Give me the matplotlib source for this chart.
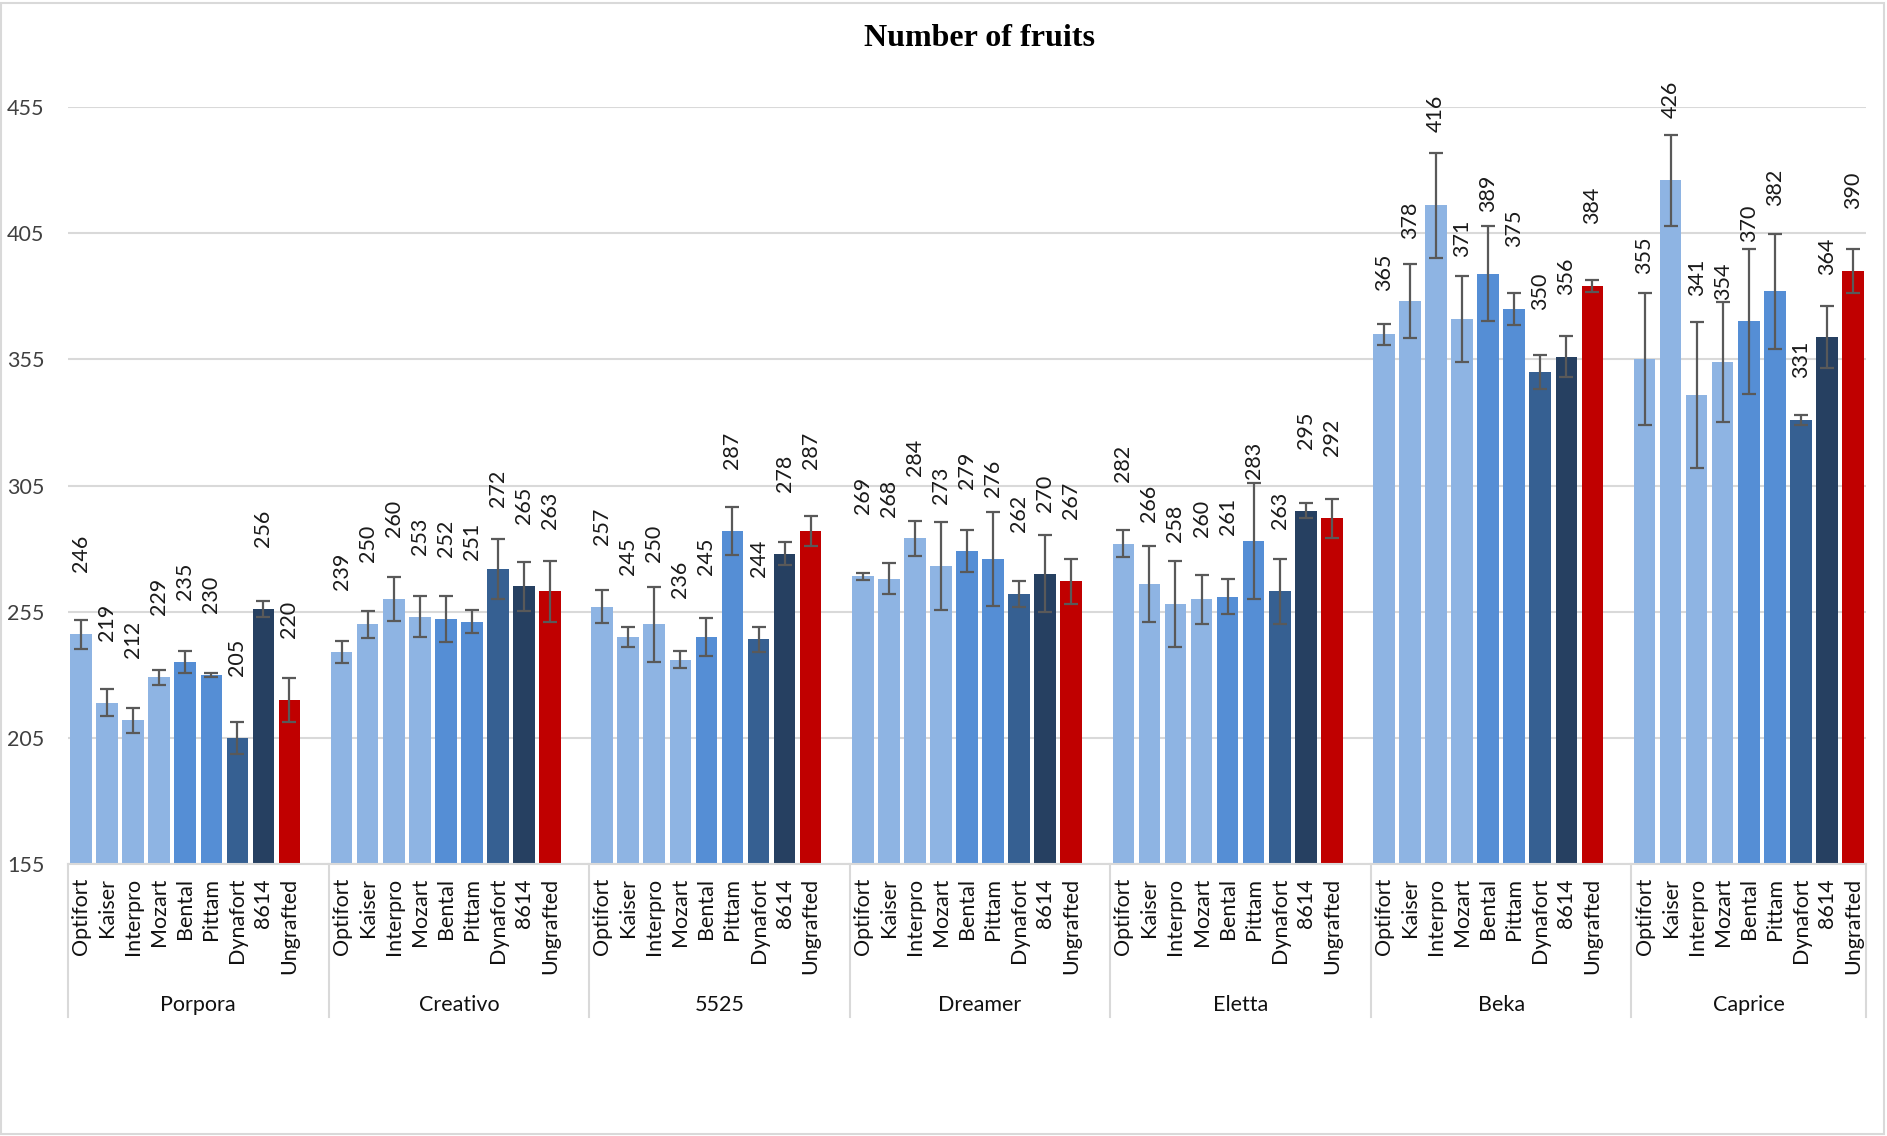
import matplotlib
matplotlib.use('Agg')
import matplotlib.pyplot as plt
import matplotlib.transforms as mtransforms
from matplotlib.patches import Rectangle

# scion groups and rootstocks along the x axis
groups = ['Porpora', 'Creativo', '5525', 'Dreamer', 'Eletta', 'Beka', 'Caprice']
rootstocks = ['Optifort', 'Kaiser', 'Interpro', 'Mozart', 'Bental', 'Pittam',
              'Dynafort', '8614', 'Ungrafted']

# number of fruits per rootstock, one list per scion
porpora = [246, 219, 212, 229, 235, 230, 205, 256, 220]
creativo = [239, 250, 260, 253, 252, 251, 272, 265, 263]
v5525 = [257, 245, 250, 236, 245, 287, 244, 278, 287]
dreamer = [269, 268, 284, 273, 279, 276, 262, 270, 267]
eletta = [282, 266, 258, 260, 261, 283, 263, 295, 292]
beka = [365, 378, 416, 371, 389, 375, 350, 356, 384]
caprice = [355, 426, 341, 354, 370, 382, 331, 364, 390]

# error bar half widths
porpora_err = [5.8, 5.5, 4.9, 2.9, 4.5, 0.8, 6.3, 3.3, 8.9]
creativo_err = [4.4, 5.4, 8.7, 8.2, 9.2, 4.6, 11.9, 9.6, 12.2]
v5525_err = [6.5, 4.0, 14.8, 3.4, 7.5, 9.4, 4.9, 4.7, 5.9]
dreamer_err = [1.4, 6.1, 7.0, 17.5, 8.2, 18.6, 5.1, 15.2, 8.9]
eletta_err = [5.2, 15.0, 17.2, 9.7, 7.1, 23.0, 12.9, 3.0, 7.7]
beka_err = [4.2, 14.7, 20.9, 17.0, 19.0, 6.4, 6.6, 8.1, 2.5]
caprice_err = [26.1, 18.0, 28.9, 23.8, 28.8, 22.8, 2.0, 12.3, 8.8]

values = [porpora, creativo, v5525, dreamer, eletta, beka, caprice]
errors = [porpora_err, creativo_err, v5525_err, dreamer_err, eletta_err, beka_err, caprice_err]

yticks = [155, 205, 255, 305, 355, 405, 455]

# styling
colors = ['#8EB4E3'] * 4 + ['#558ED5'] * 2 + ['#366092', '#264061', '#C00000']
grid_col = '#D9D9D9'
label_font = 'Lato'
fs = 15.5
# label gap above bar top, in pixels; a few were moved by hand in the original
label_gap = 62
label_gap_moved = {('Beka', 'Optifort'): 43, ('Beka', 'Interpro'): 73,
                   ('Caprice', 'Optifort'): 85, ('Caprice', 'Interpro'): 99,
                   ('Caprice', 'Bental'): 79, ('Caprice', 'Pittam'): 85,
                   ('Caprice', 'Dynafort'): 42}

W, H, DPI = 1887, 1136, 100
fig = plt.figure(figsize=(W / DPI, H / DPI), dpi=DPI)
ax = fig.add_axes([68 / W, 1 - 864 / H, (1866 - 68) / W, (864 - 107) / H])

xs, names = [], []
for g, (grp, vals, errs) in enumerate(zip(groups, values, errors)):
    x = [g * 10 + i for i in range(len(rootstocks))]
    ax.bar(x, [v - yticks[0] for v in vals], bottom=yticks[0], width=0.83,
           color=colors, zorder=2)
    ax.errorbar(x, vals, yerr=errs, fmt='none', ecolor='#595959', elinewidth=1.6,
                capsize=5, capthick=1.6, zorder=3)
    for xi, v, rs in zip(x, vals, rootstocks):
        gap = label_gap_moved.get((grp, rs), label_gap) * 72 / DPI
        ax.annotate(str(v), (xi, v), xytext=(0, gap), textcoords='offset points',
                    rotation=90, ha='center', va='bottom', fontsize=fs,
                    family=label_font, color='#1a1a1a')
    xs += x
    names += rootstocks

ax.set_xlim(-0.5, 68.5)
ax.set_ylim(yticks[0], yticks[-1])
ax.set_yticks(yticks)
ax.set_xticks(xs)
ax.set_xticklabels(names, rotation=90, va='top', ha='center')
ax.tick_params(axis='x', length=0, pad=10, labelsize=fs, labelcolor='#111111')
ax.tick_params(axis='y', length=0, pad=17, labelsize=fs, labelcolor='#404040')
for lab in ax.get_xticklabels() + ax.get_yticklabels():
    lab.set_family(label_font)

ax.grid(axis='y', color=grid_col, lw=1.5, zorder=0)
ax.set_axisbelow(True)
for s in ['top', 'right', 'left']:
    ax.spines[s].set_visible(False)
ax.spines['bottom'].set_color(grid_col)
ax.spines['bottom'].set_linewidth(1.5)

# multi level axis: dividers and scion names
trans = mtransforms.blended_transform_factory(ax.transData, ax.transAxes)
div_depth = (1017 - 864) / (864 - 107)
for d in [-0.5, 9.5, 19.5, 29.5, 39.5, 49.5, 59.5, 68.5]:
    ax.plot([d, d], [0, -div_depth], transform=trans, color=grid_col, lw=1.5,
            clip_on=False)
grp_y = -(1005 - 864) / (864 - 107)
for g, grp in enumerate(groups):
    left = g * 10 - 0.5
    right = min(g * 10 + 9.5, 68.5)
    ax.text((left + right) / 2, grp_y, grp, transform=trans, ha='center',
            va='center', fontsize=fs, family=label_font, color='#111111')

fig.text(979 / W, 1 - 38 / H, 'Number of fruits', ha='center', va='center',
         fontsize=23, fontweight='bold', family='Liberation Serif')

fig.add_artist(Rectangle((1 / W, 2 / H), (W - 4) / W, (H - 5) / H,
                         transform=fig.transFigure, fill=False, ec=grid_col, lw=1.5))

fig.savefig('out.png', dpi=DPI)
